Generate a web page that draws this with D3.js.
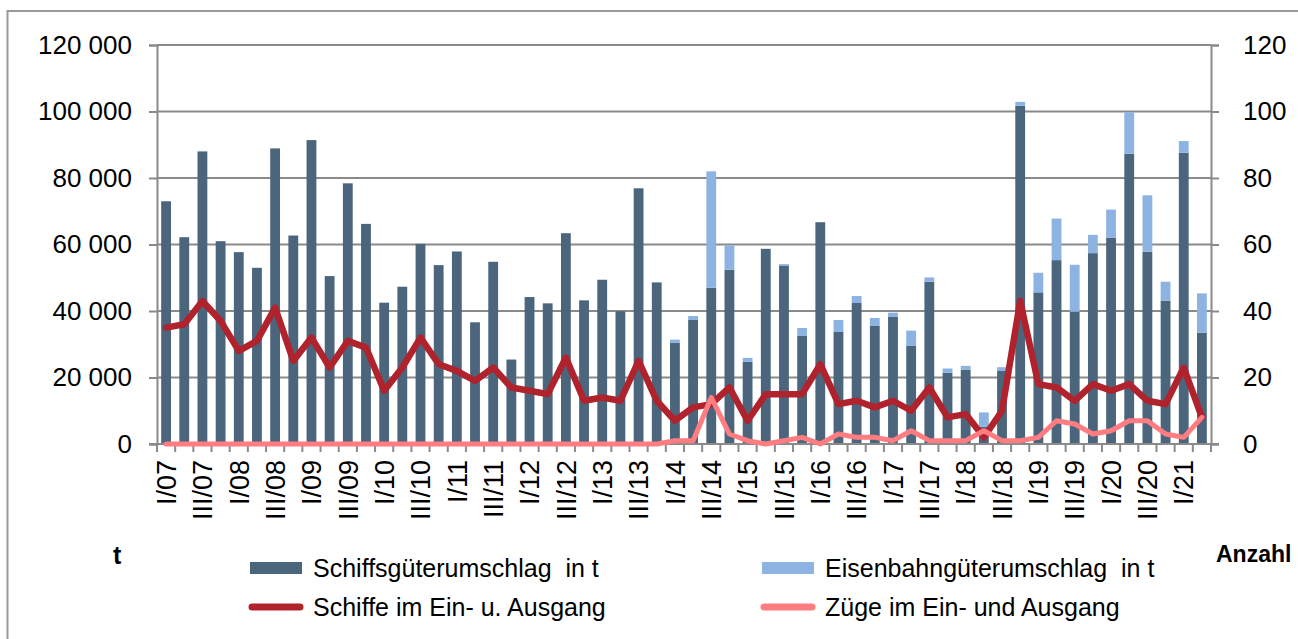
<!DOCTYPE html>
<html>
<head>
<meta charset="utf-8">
<script src="https://cdn.jsdelivr.net/npm/d3@7"></script>
<style>
  html, body { margin: 0; padding: 0; background: #fff; }
  svg { display: block; }
  text { font-family: "Liberation Sans", Arial, sans-serif; fill: #000; white-space: pre; }
</style>
</head>
<body>
<svg id="chart" width="1298" height="639"></svg>
<script>
// ---- Data ----
const quarters = [
  "I/07","II/07","III/07","IV/07","I/08","II/08","III/08","IV/08",
  "I/09","II/09","III/09","IV/09","I/10","II/10","III/10","IV/10",
  "I/11","II/11","III/11","IV/11","I/12","II/12","III/12","IV/12",
  "I/13","II/13","III/13","IV/13","I/14","II/14","III/14","IV/14",
  "I/15","II/15","III/15","IV/15","I/16","II/16","III/16","IV/16",
  "I/17","II/17","III/17","IV/17","I/18","II/18","III/18","IV/18",
  "I/19","II/19","III/19","IV/19","I/20","II/20","III/20","IV/20",
  "I/21","II/21"
];
const tickLabels = quarters.filter((q, i) => i % 2 === 0);

const shipTonnes = [
  73000, 62200, 88000, 61000, 57700, 53000, 88900, 62700,
  91400, 50500, 78400, 66200, 42500, 47300, 60200, 53800,
  57900, 36600, 54800, 25400, 44200, 42300, 63400, 43200,
  49400, 39900, 76900, 48600, 30500, 37300, 47000, 52400,
  24700, 58700, 53700, 32500, 66700, 33700, 42400, 35500,
  38200, 29500, 48800, 21400, 22400, 5200, 22100, 101700,
  45600, 55300, 39800, 57400, 62000, 87300, 57800, 43100,
  87600, 33500
];
const railTonnes = [
  0, 0, 0, 0, 0, 0, 0, 0,
  0, 0, 0, 0, 0, 0, 0, 0,
  0, 0, 0, 0, 0, 0, 0, 0,
  0, 0, 0, 0, 900, 1200, 35000, 7300,
  1200, 0, 400, 2400, 0, 3600, 2100, 2400,
  1300, 4600, 1300, 1300, 1100, 4300, 1000, 1200,
  5900, 12500, 14100, 5500, 8500, 12500, 17000, 5700,
  3500, 11800
];
const shipCount = [
  35, 36, 43, 37, 28, 31, 41, 25,
  32, 23, 31, 29, 16, 23, 32, 24,
  22, 19, 23, 17, 16, 15, 26, 13,
  14, 13, 25, 13, 7, 11, 12, 17,
  7, 15, 15, 15, 24, 12, 13, 11,
  13, 10, 17, 8, 9, 2, 10, 43,
  18, 17, 13, 18, 16, 18, 13, 12,
  23, 8
];
const trainCount = [
  0, 0, 0, 0, 0, 0, 0, 0,
  0, 0, 0, 0, 0, 0, 0, 0,
  0, 0, 0, 0, 0, 0, 0, 0,
  0, 0, 0, 0, 1, 1, 14, 3,
  1, 0, 1, 2, 0, 3, 2, 2,
  1, 4, 1, 1, 1, 4, 1, 1,
  2, 7, 6, 3, 4, 7, 7, 3,
  2, 8
];
const leftTicks = [0, 20000, 40000, 60000, 80000, 100000, 120000];
const rightTicks = [0, 20, 40, 60, 80, 100, 120];
const seriesNames = ["Schiffsgüterumschlag  in t", "Eisenbahngüterumschlag  in t",
                     "Schiffe im Ein- u. Ausgang", "Züge im Ein- und Ausgang"];

// ---- Styles ----
const C_SHIP = "#4a657c", C_RAIL = "#8db3e2", C_SHIPS = "#b0222c", C_TRAINS = "#ff7c80";
const GRID = "#8a8a8a";

const svg = d3.select("#chart");
const L = 157, R = 1211, T = 45, B = 444;

// frame
svg.append("rect").attr("x", 7.5).attr("y", 11).attr("width", 1320).attr("height", 660)
  .attr("fill", "none").attr("stroke", "#999").attr("stroke-width", 2);

const x = d3.scaleBand().domain(quarters).range([L, R]).paddingInner(0.46).paddingOuter(0.23);
const xStep = d3.scaleBand().domain(quarters).range([L, R]);
const yL = d3.scaleLinear().domain([0, 120000]).range([B, T]);
const yR = d3.scaleLinear().domain([0, 120]).range([B, T]);

// gridlines
svg.append("g").selectAll("line").data(leftTicks.slice(1)).join("line")
  .attr("x1", L).attr("x2", R).attr("y1", d => yL(d)).attr("y2", d => yL(d))
  .attr("stroke", GRID).attr("stroke-width", 2);

// bars
const data = quarters.map((q, i) => ({ q, s: shipTonnes[i], r: railTonnes[i] }));
svg.append("g").selectAll("rect").data(data).join("rect")
  .attr("x", d => x(d.q)).attr("width", x.bandwidth())
  .attr("y", d => yL(d.s)).attr("height", d => yL(0) - yL(d.s))
  .attr("fill", C_SHIP);
svg.append("g").selectAll("rect").data(data.filter(d => d.r > 0)).join("rect")
  .attr("x", d => x(d.q)).attr("width", x.bandwidth())
  .attr("y", d => yL(d.s + d.r)).attr("height", d => yL(d.s) - yL(d.s + d.r))
  .attr("fill", C_RAIL);

// axes
const fmt = d => d3.format(",")(d).replace(/,/g, " ");
const axL = svg.append("g").attr("transform", `translate(${L},0)`)
  .call(d3.axisLeft(yL).tickValues(leftTicks).tickFormat(fmt).tickSize(8).tickPadding(17));
const axR = svg.append("g").attr("transform", `translate(${R},0)`)
  .call(d3.axisRight(yR).tickValues(rightTicks).tickSize(8).tickPadding(24));
const axB = svg.append("g").attr("transform", `translate(0,${B})`)
  .call(d3.axisBottom(xStep).tickValues([]).tickSize(0));
[axL, axR, axB].forEach(a => {
  a.selectAll("path").attr("stroke", GRID).attr("stroke-width", 2);
  a.selectAll("line").attr("stroke", GRID).attr("stroke-width", 2);
  a.selectAll("text").attr("font-size", 26).attr("font-family", "Liberation Sans, Arial, sans-serif").attr("fill", "#000");
});
axB.select("path").remove();
svg.append("line").attr("x1", L - 8).attr("x2", R + 8).attr("y1", B).attr("y2", B)
  .attr("stroke", GRID).attr("stroke-width", 2);
// x ticks at band boundaries
const bounds = quarters.map(q => xStep(q)).concat([R]);
svg.append("g").selectAll("line").data(bounds).join("line")
  .attr("x1", d => d).attr("x2", d => d).attr("y1", B).attr("y2", B + 8)
  .attr("stroke", GRID).attr("stroke-width", 2);
// x labels
svg.append("g").selectAll("text").data(tickLabels).join("text")
  .attr("transform", d => `translate(${x(d) + x.bandwidth() / 2},${B + 16}) rotate(-90)`)
  .attr("text-anchor", "end").attr("dy", "0.36em").attr("font-size", 27)
  .text(d => d);

// lines
const lineShips = d3.line().x((d, i) => x(quarters[i]) + x.bandwidth() / 2).y(d => yR(d));
svg.append("path").datum(shipCount).attr("d", lineShips)
  .attr("fill", "none").attr("stroke", C_SHIPS).attr("stroke-width", 6.5)
  .attr("stroke-linejoin", "round").attr("stroke-linecap", "round");
svg.append("path").datum(trainCount).attr("d", lineShips)
  .attr("fill", "none").attr("stroke", C_TRAINS).attr("stroke-width", 5)
  .attr("stroke-linejoin", "round").attr("stroke-linecap", "round");

// unit labels
svg.append("text").attr("x", 113).attr("y", 564).attr("font-size", 25).attr("font-weight", "bold").text("t");
svg.append("text").attr("x", 1216).attr("y", 562).attr("font-size", 23).attr("font-weight", "bold").text("Anzahl");

// legend
const leg = [
  { name: seriesNames[0], type: "rect", color: C_SHIP, x: 250, y: 568 },
  { name: seriesNames[1], type: "rect", color: C_RAIL, x: 762, y: 568 },
  { name: seriesNames[2], type: "line", color: C_SHIPS, x: 250, y: 607 },
  { name: seriesNames[3], type: "line", color: C_TRAINS, x: 762, y: 607 }
];
const lg = svg.append("g").selectAll("g").data(leg).join("g");
lg.filter(d => d.type === "rect").append("rect")
  .attr("x", d => d.x).attr("y", d => d.y - 6).attr("width", 52).attr("height", 12).attr("fill", d => d.color);
lg.filter(d => d.type === "line").append("line")
  .attr("x1", d => d.x + 2).attr("x2", d => d.x + 50).attr("y1", d => d.y).attr("y2", d => d.y)
  .attr("stroke", d => d.color).attr("stroke-width", 7).attr("stroke-linecap", "round");
lg.append("text").attr("x", d => d.x + 63).attr("y", d => d.y + 9)
  .attr("font-size", 25).text(d => d.name);
</script>
</body>
</html>
